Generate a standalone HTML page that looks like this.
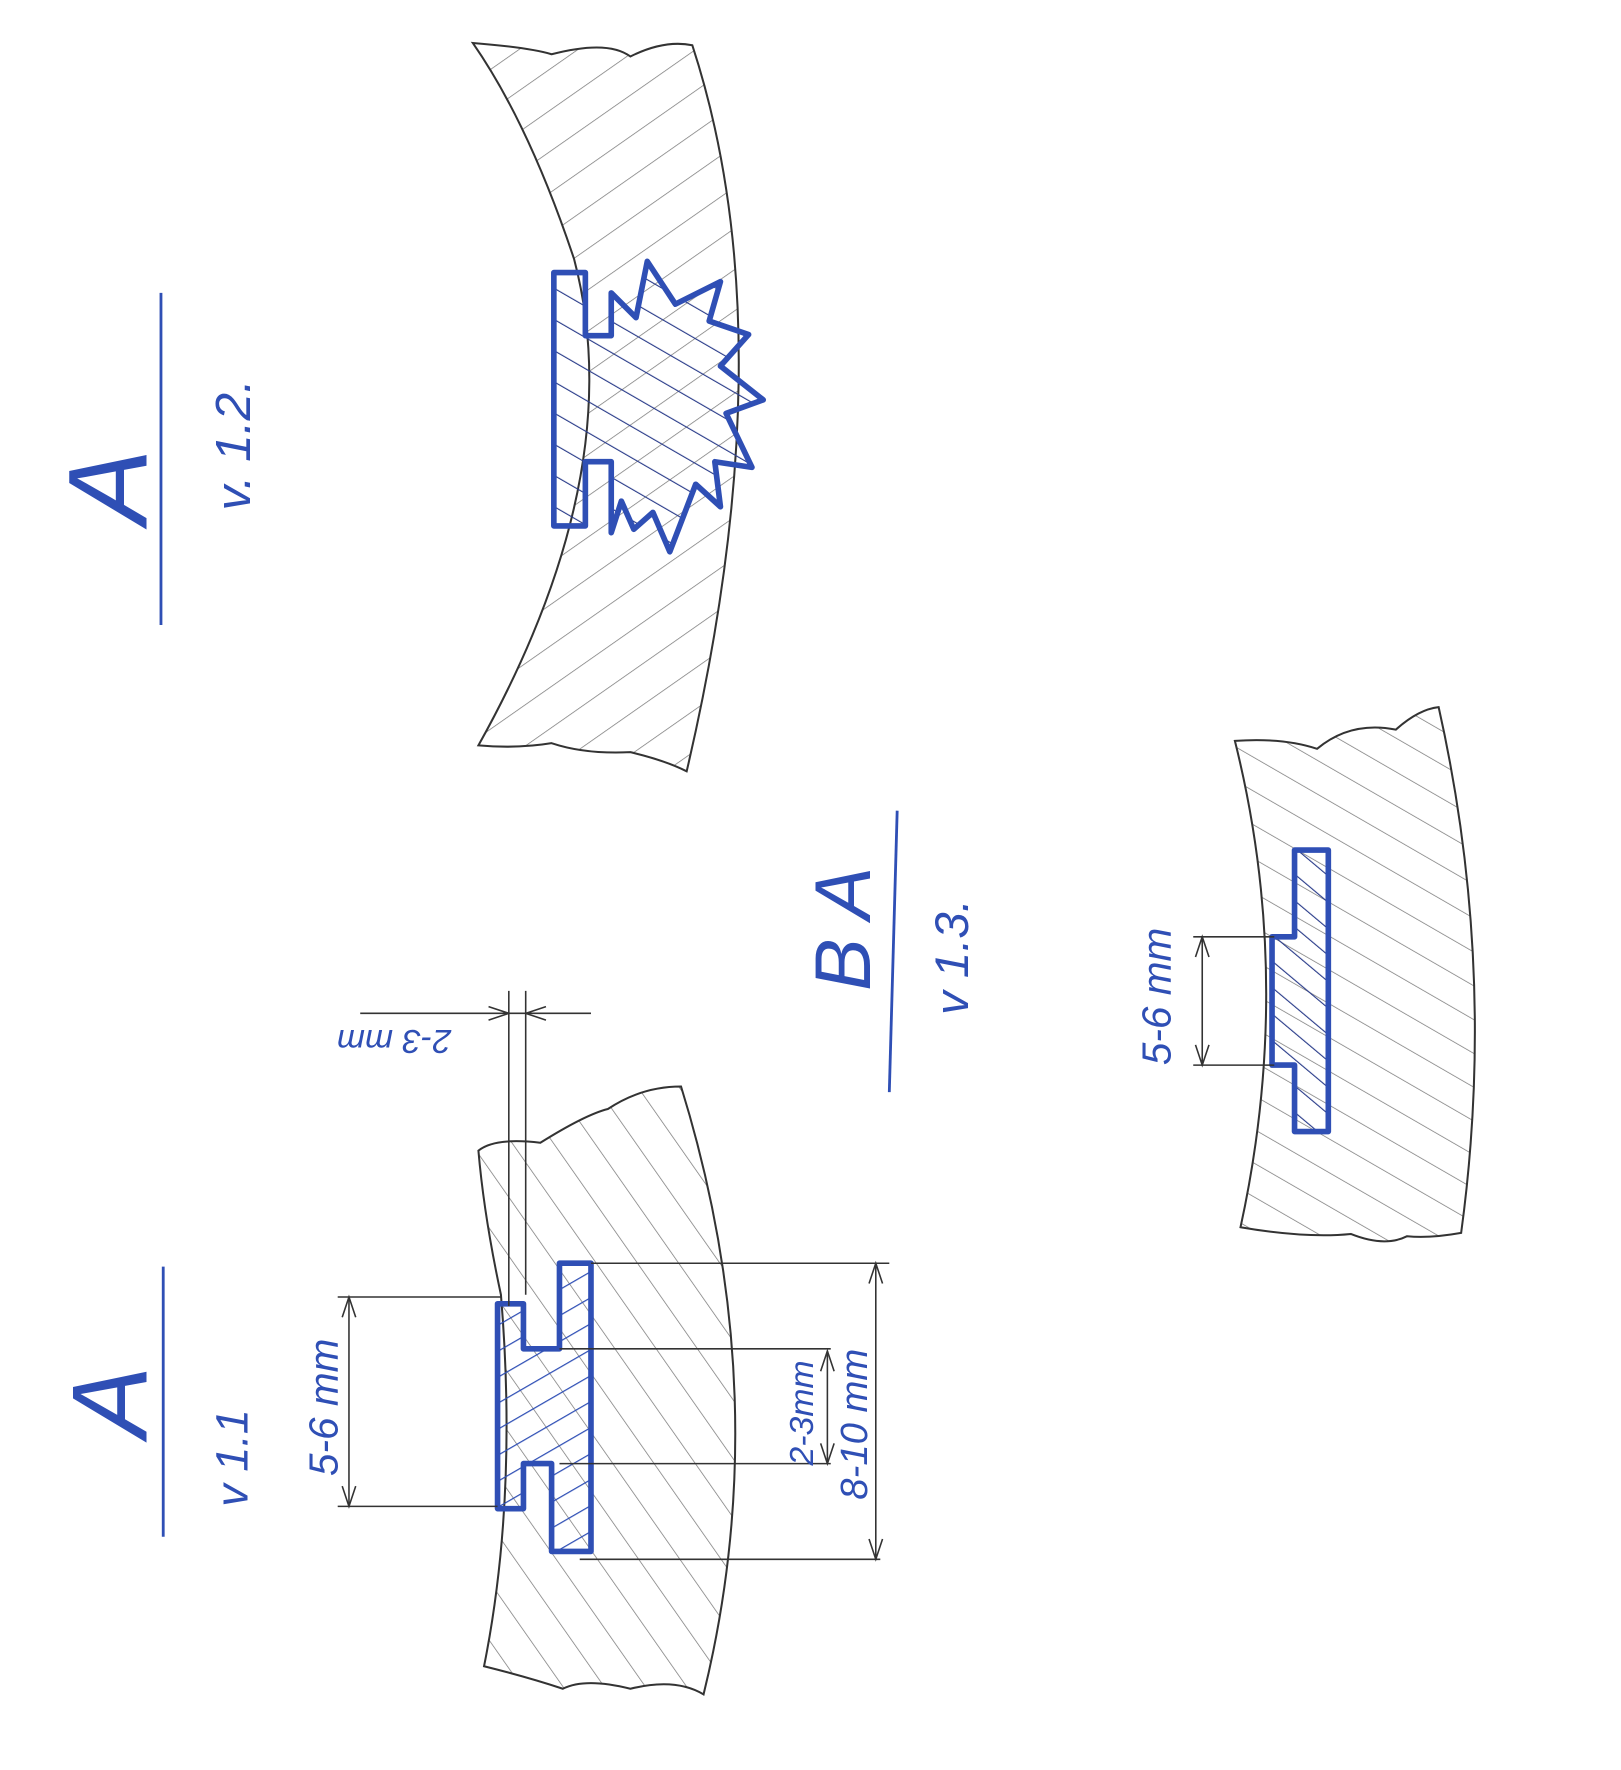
<!DOCTYPE html>
<html><head><meta charset="utf-8"><style>html,body{margin:0;padding:0;background:#fff}svg{display:block}</style></head>
<body>
<svg width="1621" height="1770" viewBox="0 0 1440 1572" xmlns="http://www.w3.org/2000/svg">
<defs>
<pattern id="g2" width="30" height="30" patternUnits="userSpaceOnUse" patternTransform="rotate(55)">
<line x1="0" y1="0" x2="0" y2="30" stroke="#777" stroke-width="1.3"/></pattern>
<pattern id="g1" width="30" height="30" patternUnits="userSpaceOnUse" patternTransform="rotate(-35)">
<line x1="0" y1="0" x2="0" y2="30" stroke="#777" stroke-width="1.3"/></pattern>
<pattern id="g3" width="26" height="26" patternUnits="userSpaceOnUse" patternTransform="rotate(-60)">
<line x1="0" y1="0" x2="0" y2="26" stroke="#777" stroke-width="1.3"/></pattern>
<pattern id="hb" width="24" height="24" patternUnits="userSpaceOnUse" patternTransform="rotate(-60)">
<line x1="0" y1="0" x2="0" y2="24" stroke="#2a3c8a" stroke-width="2"/></pattern>
<pattern id="hb1" width="20" height="20" patternUnits="userSpaceOnUse" patternTransform="rotate(60)">
<line x1="0" y1="0" x2="0" y2="20" stroke="#2f4fb5" stroke-width="2.2"/></pattern>
<pattern id="hb2" width="18" height="18" patternUnits="userSpaceOnUse" patternTransform="rotate(-50)">
<line x1="0" y1="0" x2="0" y2="18" stroke="#2a3c8a" stroke-width="2"/></pattern>
</defs>
<g fill="none" stroke="#333" stroke-width="1.8">
<path d="M420,38 Q470,42 490,48 Q540,35 560,50 Q590,35 615,40 Q700,300 610,685 Q590,675 560,668 Q520,670 490,660 Q460,665 425,662 Q560,420 510,230 Q470,110 420,38 Z" fill="url(#g2)"/>
<path d="M425,1022 Q440,1010 480,1015 Q520,990 540,985 Q570,965 605,965 Q690,1240 625,1505 Q600,1490 560,1500 Q520,1490 500,1500 Q470,1490 430,1480 Q460,1330 445,1150 Q430,1080 425,1022 Z" fill="url(#g1)"/>
<path d="M1097,658 Q1140,655 1170,665 Q1200,640 1240,648 Q1260,630 1278,628 Q1330,860 1298,1095 Q1270,1100 1250,1098 Q1230,1108 1200,1096 Q1160,1100 1102,1090 Q1150,870 1097,658 Z" fill="url(#g3)"/>
</g>
<g stroke="#2f4fb5" stroke-width="5" stroke-linejoin="round">
<path d="M492,242 L520,242 L520,298 L543,298 L543,260 L565,282 L575,232 L600,270 L640,250 L630,285 L665,297 L640,325 L678,355 L645,367 L668,415 L635,410 L640,450 L618,430 L595,490 L580,455 L563,470 L552,445 L543,473 L543,410 L520,410 L520,467 L492,467 Z" fill="url(#hb)"/>
<path d="M442,1158 L465,1158 L465,1198 L497,1198 L497,1122 L525,1122 L525,1378 L490,1378 L490,1300 L465,1300 L465,1340 L442,1340 Z" fill="url(#hb1)"/>
<path d="M1150,755 L1180,755 L1180,1005 L1150,1005 L1150,946 L1130,946 L1130,832 L1150,832 Z" fill="url(#hb2)"/>
</g>
<g stroke="#333" stroke-width="1.4" fill="none">
<line x1="525" y1="1122" x2="790" y2="1122"/><line x1="497" y1="1198" x2="738" y2="1198"/>
<line x1="497" y1="1300" x2="738" y2="1300"/><line x1="515" y1="1385" x2="782" y2="1385"/>
<line x1="778" y1="1122" x2="778" y2="1385"/><line x1="735" y1="1200" x2="735" y2="1300"/>
<line x1="300" y1="1152" x2="445" y2="1152"/><line x1="300" y1="1338" x2="442" y2="1338"/>
<line x1="310" y1="1152" x2="310" y2="1338"/>
<line x1="452" y1="880" x2="452" y2="1160"/><line x1="467" y1="880" x2="467" y2="1150"/>
<line x1="320" y1="900" x2="525" y2="900"/>
<line x1="1060" y1="832" x2="1132" y2="832"/><line x1="1060" y1="946" x2="1132" y2="946"/>
<line x1="1068" y1="832" x2="1068" y2="946"/>
<path d="M772,1140 L778,1122 L784,1140 M772,1367 L778,1385 L784,1367 M729,1218 L735,1200 L741,1218 M729,1282 L735,1300 L741,1282 M304,1170 L310,1152 L316,1170 M304,1320 L310,1338 L316,1320 M1062,850 L1068,832 L1074,850 M1062,928 L1068,946 L1074,928 M434,894 L452,900 L434,906 M485,894 L467,900 L485,906"/>
</g>
<g stroke="#2f4fb5" stroke-width="2.5">
<line x1="145" y1="1125" x2="145" y2="1365"/><line x1="143" y1="260" x2="143" y2="555"/><line x1="797" y1="720" x2="790" y2="970"/>
</g>
<g fill="#2f4fb5" font-family="Liberation Sans, sans-serif" font-style="italic">
<text transform="translate(130,1245) rotate(-90)" font-size="95" text-anchor="middle">A</text>
<text transform="translate(220,1295) rotate(-90)" font-size="40" text-anchor="middle">v 1.1</text>
<text transform="translate(130,432) rotate(-90)" font-size="100" text-anchor="middle">A</text>
<text transform="translate(222,395) rotate(-90)" font-size="44" text-anchor="middle">v. 1.2.</text>
<text transform="translate(773,825) rotate(-90)" font-size="70" text-anchor="middle">B A</text>
<text transform="translate(860,850) rotate(-90)" font-size="42" text-anchor="middle">v 1.3.</text>
<text transform="translate(300,1250) rotate(-90)" font-size="36" text-anchor="middle">5-6 mm</text>
<text transform="translate(722,1255) rotate(-90)" font-size="30" text-anchor="middle">2-3mm</text>
<text transform="translate(770,1265) rotate(-90)" font-size="34" text-anchor="middle">8-10 mm</text>
<text transform="translate(350,915) rotate(180)" font-size="30" text-anchor="middle">2-3 mm</text>
<text transform="translate(1040,885) rotate(-90)" font-size="36" text-anchor="middle">5-6 mm</text>
</g>
</svg>
</body></html>
